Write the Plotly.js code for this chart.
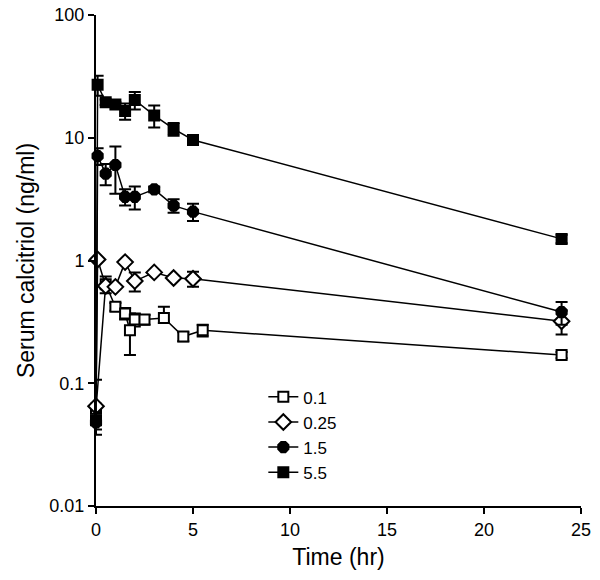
<!DOCTYPE html>
<html>
<head>
<meta charset="utf-8">
<script src="https://cdn.plot.ly/plotly-3.0.1.min.js"></script>
<style>
  html, body { margin: 0; padding: 0; background: #fff; }
  #chart { width: 600px; height: 580px; }
</style>
</head>
<body>
<div id="chart"></div>
<script>
// Serum calcitriol after IV dosing, four dose groups (log scale)

const timeDose01 = [0, 0.5, 1, 1.5, 1.75, 2, 2.5, 3.5, 4.5, 5.5, 24];
const valDose01 = [0.062, 0.64, 0.42, 0.37, 0.27, 0.33, 0.33, 0.34, 0.24, 0.27, 0.17];
const errUpDose01 = [0.045, 0.1, 0.03, 0.04, 0.1, 0.04, 0.03, 0.08, 0.02, 0.03, 0.01];
const errDownDose01 = [0.02, 0.1, 0.03, 0.04, 0.1, 0.04, 0.03, 0.03, 0.02, 0.03, 0.01];

const timeDose025 = [0, 0.083, 0.5, 1, 1.5, 2, 3, 4, 5, 24];
const valDose025 = [0.065, 1.02, 0.62, 0.61, 0.97, 0.68, 0.8, 0.72, 0.71, 0.32];
const errDose025 = [0, 0, 0, 0, 0, 0.12, 0, 0, 0.1, 0.07];

const timeDose15 = [0, 0.083, 0.5, 1, 1.5, 2, 3, 4, 5, 24];
const valDose15 = [0.048, 7.1, 5.1, 6.0, 3.3, 3.3, 3.8, 2.8, 2.5, 0.38];
const errDose15 = [0.01, 1.1, 1.0, 2.5, 0.5, 0.7, 0.2, 0.35, 0.4, 0.08];

const timeDose55 = [0, 0.083, 0.5, 1, 1.5, 2, 3, 4, 5, 24];
const valDose55 = [0.05, 27, 19.5, 18.7, 16.5, 20.3, 15.2, 11.8, 9.6, 1.5];
const errDose55 = [0, 5, 1, 0.8, 2.5, 3.3, 3.1, 1.4, 0.3, 0.12];

const groups = [
  { name: "0.1", t: timeDose01, v: valDose01, eUp: errUpDose01, eDown: errDownDose01, symbol: "square", fill: "#fff", size: 10 },
  { name: "0.25", t: timeDose025, v: valDose025, eUp: errDose025, eDown: errDose025, symbol: "diamond", fill: "#fff", size: 12 },
  { name: "1.5", t: timeDose15, v: valDose15, eUp: errDose15, eDown: errDose15, symbol: "octagon", fill: "#000", size: 11 },
  { name: "5.5", t: timeDose55, v: valDose55, eUp: errDose55, eDown: errDose55, symbol: "square", fill: "#000", size: 10 },
];

const data = groups.map((g) => ({
  x: g.t,
  y: g.v,
  name: g.name,
  type: "scatter",
  mode: "lines+markers",
  cliponaxis: false,
  line: { color: "#000", width: 1.5 },
  marker: {
    symbol: g.symbol,
    size: g.size,
    color: g.fill,
    line: { color: "#000", width: 2 },
  },
  error_y: {
    type: "data",
    symmetric: false,
    array: g.eUp,
    arrayminus: g.eDown,
    visible: true,
    color: "#000",
    thickness: 2,
    width: 6,
  },
}));

const layout = {
  width: 600,
  height: 580,
  margin: { l: 96, r: 19, t: 15, b: 74 },
  paper_bgcolor: "#fff",
  plot_bgcolor: "#fff",
  font: { family: "Liberation Sans, Arial, sans-serif", color: "#000", size: 17 },
  showlegend: true,
  legend: {
    x: 0.345,
    y: 0.258,
    xanchor: "left",
    yanchor: "top",
    bgcolor: "rgba(0,0,0,0)",
    font: { size: 17 },
    traceorder: "normal",
  },
  xaxis: {
    range: [0, 25],
    tickvals: [0, 5, 10, 15, 20, 25],
    ticks: "outside",
    ticklen: 6,
    tickwidth: 2,
    tickcolor: "#000",
    showline: true,
    linecolor: "#000",
    linewidth: 2,
    showgrid: false,
    zeroline: false,
    tickfont: { size: 18 },
    title: { text: "Time (hr)", font: { size: 23 }, standoff: 10 },
  },
  yaxis: {
    type: "log",
    range: [-2, 2],
    tickvals: [0.01, 0.1, 1, 10, 100],
    ticktext: ["0.01", "0.1", "1", "10", "100"],
    ticks: "outside",
    ticklen: 6,
    tickwidth: 2,
    tickcolor: "#000",
    showline: true,
    linecolor: "#000",
    linewidth: 2,
    showgrid: false,
    zeroline: false,
    tickfont: { size: 18 },
    title: { text: "Serum calcitriol (ng/ml)", font: { size: 23 }, standoff: 8 },
  },
};

Plotly.newPlot("chart", data, layout, { displayModeBar: false, staticPlot: true });
</script>
</body>
</html>
